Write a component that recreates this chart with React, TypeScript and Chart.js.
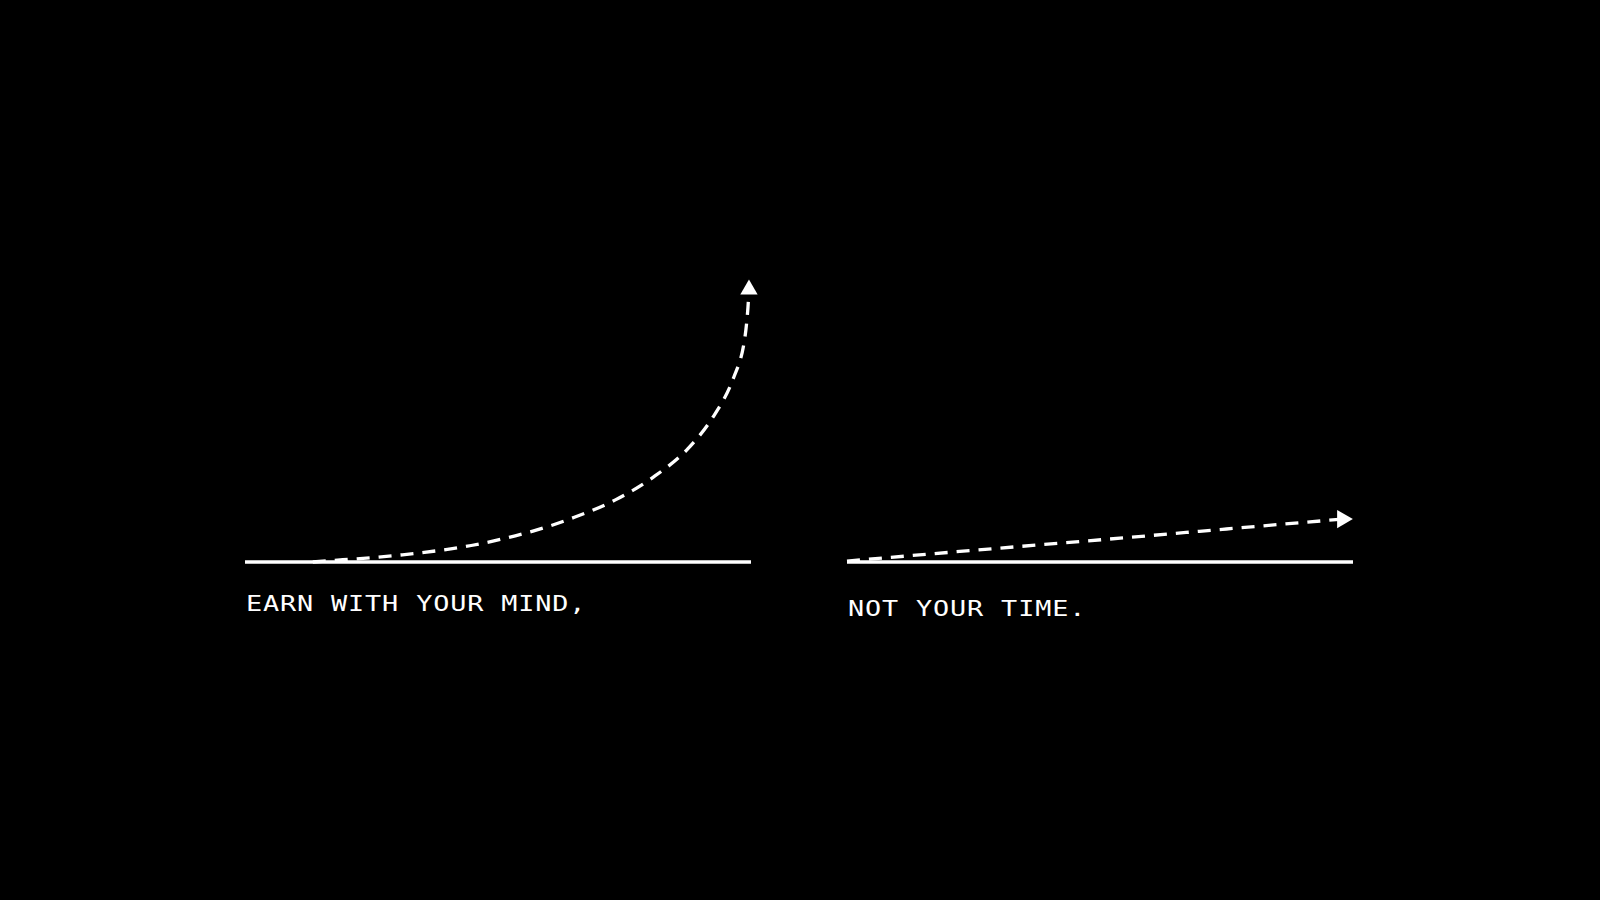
import React, { useEffect, useRef } from "react";
import { Chart, registerables } from "chart.js";

Chart.register(...registerables);

// Left panel: exponential "mind" curve (x: 0..100, y: 0..100)
const mindX = [13.4, 31.1, 44.7, 56.9, 65.1, 73.2, 80.7, 87.5, 92.9, 96.6, 98.8, 99.4, 99.6];
const mindY = [0, 2.4, 5.5, 10.3, 14.9, 20.7, 28.3, 37.7, 49.4, 61.6, 74.9, 84.9, 90.8];

// Right panel: linear "time" line
const timeX = [0, 25, 50.8, 75, 97.9];
const timeY = [0.3, 3.9, 7.5, 11.0, 14.3];

// Baseline
const baseX = [0, 100];
const baseY = [0, 0];

const leftLabel = "EARN WITH YOUR MIND,";
const rightLabel = "NOT YOUR TIME.";

function toPts(xs: number[], ys: number[]) {
  return xs.map((x, i) => ({ x, y: ys[i] }));
}

function makeConfig(xs: number[], ys: number[], rotation: number, arrowR: number): any {
  const n = xs.length;
  return {
    type: "line",
    data: {
      datasets: [
        {
          data: toPts(baseX, baseY),
          borderColor: "#ffffff",
          borderWidth: 3.5,
          pointRadius: 0,
          clip: false,
        },
        {
          data: toPts(xs, ys),
          borderColor: "#ffffff",
          backgroundColor: "#ffffff",
          borderWidth: 3.3,
          borderDash: [13, 9],
          cubicInterpolationMode: "monotone",
          pointRadius: xs.map((_, i) => (i === n - 1 ? arrowR : 0)),
          pointStyle: "triangle",
          pointRotation: rotation,
          pointBorderWidth: 0,
          pointBackgroundColor: "#ffffff",
          clip: false,
        },
      ],
    },
    options: {
      animation: false,
      responsive: false,
      maintainAspectRatio: false,
      layout: { padding: { left: 20, right: 24, top: 22, bottom: 18 } },
      plugins: { legend: { display: false }, tooltip: { enabled: false } },
      scales: {
        x: { type: "linear", min: 0, max: 100, display: false },
        y: { type: "linear", min: 0, max: 100, display: false },
      },
    },
  };
}

function Panel(props: { left: number; xs: number[]; ys: number[]; rotation: number; arrowR: number }) {
  const ref = useRef<HTMLCanvasElement | null>(null);
  useEffect(() => {
    if (!ref.current) return;
    const chart = new Chart(ref.current, makeConfig(props.xs, props.ys, props.rotation, props.arrowR));
    return () => chart.destroy();
  }, []);
  return (
    <canvas
      ref={ref}
      width={550}
      height={340}
      style={{ position: "absolute", left: props.left, top: 240, width: 550, height: 340 }}
    />
  );
}

const textStyle: React.CSSProperties = {
  position: "absolute",
  color: "#ffffff",
  fontFamily: "'DejaVu Sans Mono', monospace",
  fontSize: 22,
  lineHeight: "22px",
  letterSpacing: "0.7px",
  whiteSpace: "nowrap",
  transform: "scaleX(1.22)",
  transformOrigin: "0 0",
};

export default function App() {
  return (
    <div style={{ position: "fixed", left: 0, top: 0, width: 1600, height: 900, background: "#000000", overflow: "hidden" }}>
      <Panel left={225} xs={mindX} ys={mindY} rotation={0} arrowR={10} />
      <Panel left={827} xs={timeX} ys={timeY} rotation={90} arrowR={10.5} />
      <div style={{ ...textStyle, left: 246, top: 593 }}>{leftLabel}</div>
      <div style={{ ...textStyle, left: 848, top: 598 }}>{rightLabel}</div>
    </div>
  );
}
